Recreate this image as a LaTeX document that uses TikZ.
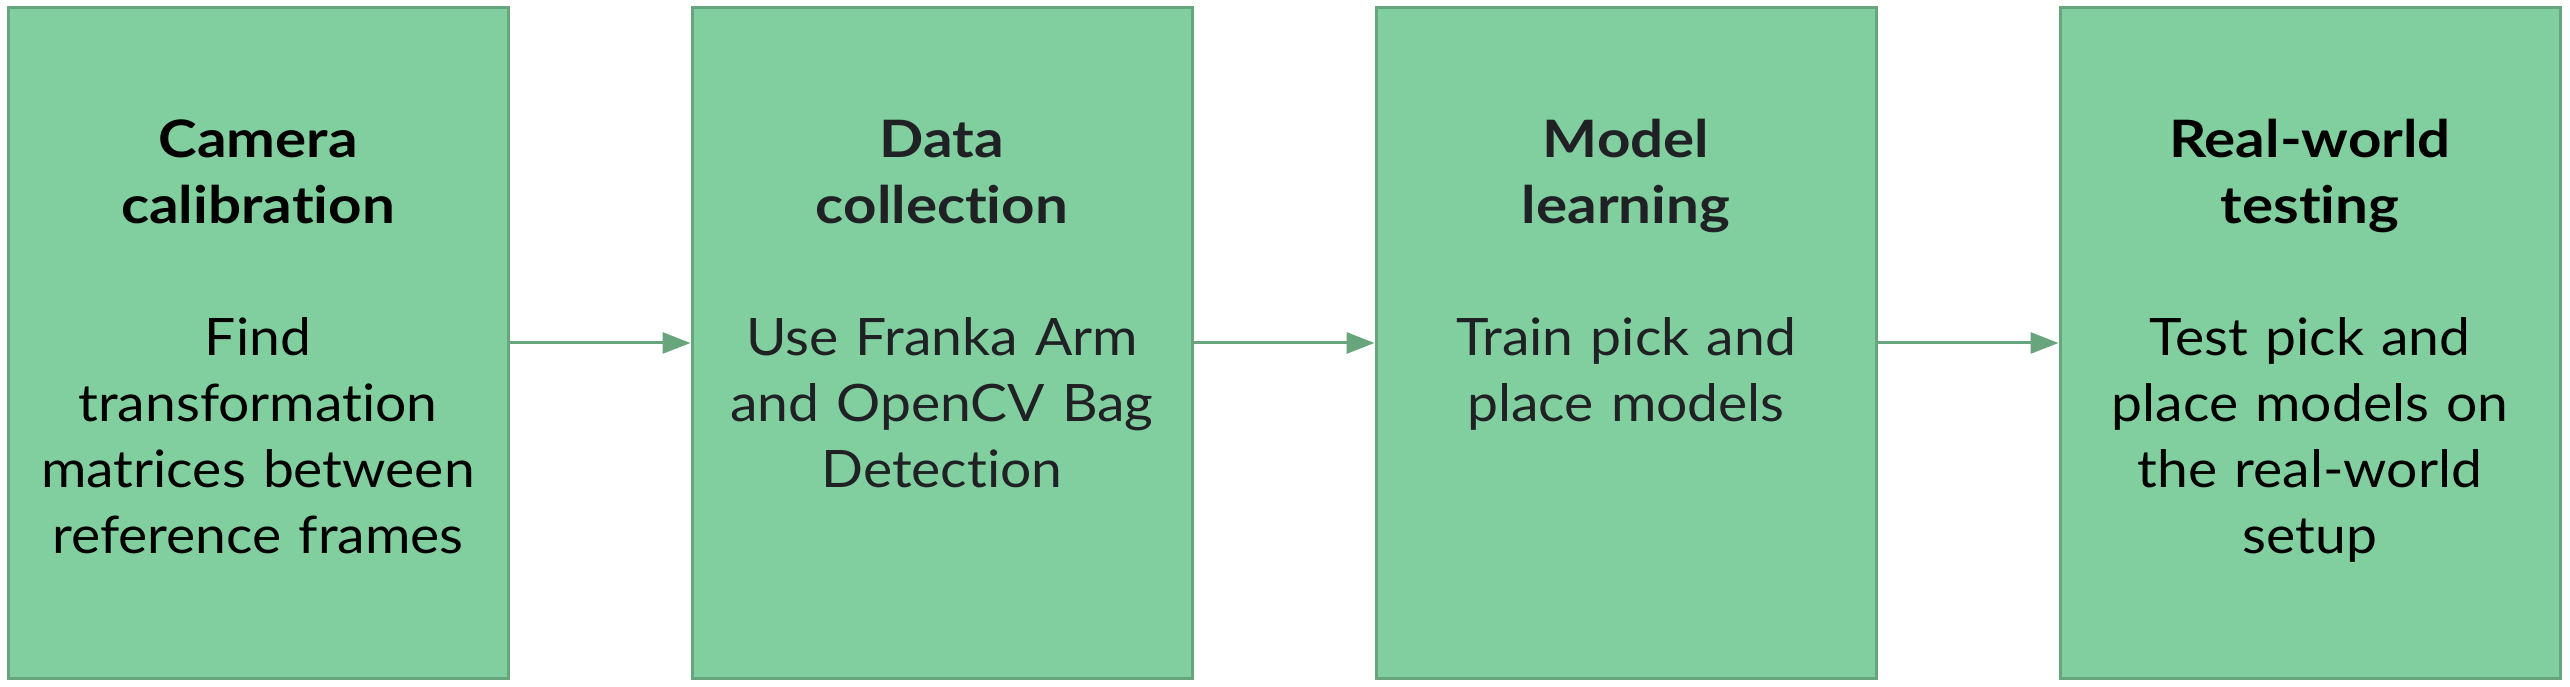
\documentclass[tikz,border=0pt]{standalone}
\usepackage{fontspec}
\setmainfont{Lato}[Ligatures={NoCommon,NoContextual}, FakeStretch=1.07,
  BoldFeatures={FakeStretch=1.13}]
\usetikzlibrary{arrows.meta}
\definecolor{boxfill}{HTML}{81CF9F}
\definecolor{boxline}{HTML}{68A57C}
\definecolor{darktext}{HTML}{202124}
\tikzset{
  stagebox/.style={draw=boxline, fill=boxfill, line width=1.5pt, inner sep=0pt,
    minimum width=250pt, minimum height=335pt},
  titletext/.style={anchor=north, inner sep=0pt, text width=245pt, align=center,
    font=\fontsize{25.8pt}{33pt}\selectfont\bfseries},
  bodytext/.style={anchor=north, inner sep=0pt, text width=245pt, align=center,
    font=\fontsize{25.8pt}{33pt}\selectfont},
  flow/.style={draw=boxline, line width=1.5pt, -{Triangle[length=14pt,width=10.5pt]}}
}
\begin{document}
\begin{tikzpicture}[x=0.5pt,y=0.5pt]
\useasboundingbox (0,0) rectangle (2570,686);
\node[stagebox] (b1) at (258,343) {};
\node[stagebox] (b2) at (942,343) {};
\node[stagebox] (b3) at (1626,343) {};
\node[stagebox] (b4) at (2310,343) {};
\node[titletext, text=black] (t1) at (258,575.2) {\strut Camera\\calibration};
\node[titletext, text=darktext] (t2) at (942,575.2) {\strut Data\\collection};
\node[titletext, text=darktext] (t3) at (1626,575.2) {\strut Model\\learning};
\node[titletext, text=black] (t4) at (2310,575.2) {\strut Real-world\\testing};
\node[bodytext, text=black] (d1) at (258,377.2) {\strut Find\\transformation\\matrices between\\reference frames};
\node[bodytext, text=darktext] (d2) at (942,377.2) {\strut Use Franka Arm\\and OpenCV Bag\\Detection};
\node[bodytext, text=darktext] (d3) at (1626,377.2) {\strut Train pick and\\place models};
\node[bodytext, text=black] (d4) at (2310,377.2) {\strut Test pick and\\place models on\\the real-world\\setup};
\draw[flow] (b1.east) -- (b2.west);
\draw[flow] (b2.east) -- (b3.west);
\draw[flow] (b3.east) -- (b4.west);
\end{tikzpicture}
\end{document}
